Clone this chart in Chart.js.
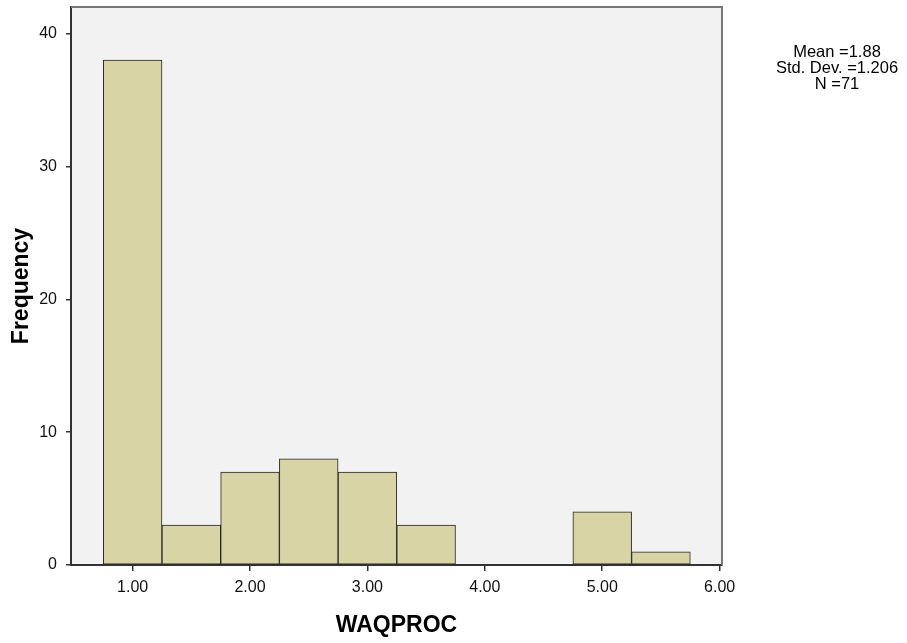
<!DOCTYPE html>
<html>
<head>
<meta charset="utf-8">
<title>WAQPROC histogram</title>
<script src="https://cdn.jsdelivr.net/npm/chart.js@4.4.0/dist/chart.umd.min.js"></script>
<style>
    html, body { margin: 0; padding: 0; background: #ffffff; }
    #chart-wrap { width: 907px; height: 643px; }
</style>
</head>
<body>
<div id="chart-wrap"><canvas id="histogram" width="907" height="643"></canvas></div>
<script>
// bin midpoints (bin width 0.5) and counts per bin
const binCenters = [1.0, 1.5, 2.0, 2.5, 3.0, 3.5, 4.0, 4.5, 5.0, 5.5];
const frequencies = [38, 3, 7, 8, 7, 3, 0, 0, 4, 1];
const xTickValues = [1, 2, 3, 4, 5, 6];
const yTickValues = [0, 10, 20, 30, 40];

const FONT = "'Liberation Sans', Arial, sans-serif";

// summary stats shown at the right, worked out from the binned values
function summary() {
    let n = 0, sum = 0, sumSq = 0;
    for (let i = 0; i < binCenters.length; i++) {
        n += frequencies[i];
        sum += frequencies[i] * binCenters[i];
        sumSq += frequencies[i] * binCenters[i] * binCenters[i];
    }
    let mean = sum / n;
    let sd = Math.sqrt((sumSq - n * mean * mean) / (n - 1));
    return ["Mean =" + mean.toFixed(2), "Std. Dev. =" + sd.toFixed(3), "N =" + n];
}

// grey plot background plus the thin frame on top and right
const plotFrame = {
    id: 'plotFrame',
    beforeDraw(chart) {
        const { ctx, chartArea: a } = chart;
        ctx.save();
        ctx.fillStyle = '#f2f2f2';
        ctx.fillRect(a.left, a.top, a.right - a.left, a.bottom - a.top);
        ctx.restore();
    },
    afterDraw(chart) {
        const { ctx, chartArea: a } = chart;
        ctx.save();
        ctx.strokeStyle = '#777777';
        ctx.lineWidth = 2;
        ctx.beginPath();
        ctx.moveTo(a.left, a.top);
        ctx.lineTo(a.right, a.top);
        ctx.lineTo(a.right, a.bottom);
        ctx.stroke();

        // stats block
        ctx.fillStyle = '#000000';
        ctx.font = '16.5px ' + FONT;
        ctx.textAlign = 'center';
        ctx.textBaseline = 'middle';
        summary().forEach(function (line, i) {
            ctx.fillText(line, 837, 52 + i * 16);
        });
        ctx.restore();
    }
};

new Chart(document.getElementById('histogram'), {
    type: 'bar',
    data: {
        datasets: [{
            label: 'WAQPROC',
            data: binCenters.map((x, i) => ({ x: x, y: frequencies[i] })),
            backgroundColor: '#d9d4a5',
            borderColor: '#262626',
            borderWidth: 1,
            borderSkipped: false,
            barPercentage: 1.0,
            categoryPercentage: 1.0
        }]
    },
    options: {
        responsive: false,
        animation: false,
        layout: { padding: { top: 7, right: 185, left: 0, bottom: 0 } },
        plugins: {
            legend: { display: false },
            tooltip: { enabled: false }
        },
        scales: {
            x: {
                type: 'linear',
                offset: false,
                min: 0.475,
                max: 6.02,
                afterBuildTicks: function (scale) {
                    scale.ticks = xTickValues.map(v => ({ value: v }));
                },
                afterFit: function (scale) {
                    scale.height = 78;
                    scale.paddingLeft = 0;
                    scale.paddingRight = 0;
                },
                border: { display: true, color: '#333333', width: 2 },
                grid: { offset: false, drawOnChartArea: false, tickLength: 6, color: '#333333', lineWidth: 1.5 },
                ticks: {
                    padding: 7,
                    color: '#111111',
                    font: { family: FONT, size: 16 },
                    maxRotation: 0,
                    callback: function (value) { return value.toFixed(2); }
                },
                title: {
                    display: true,
                    text: 'WAQPROC',
                    color: '#000000',
                    font: { family: FONT, size: 23, weight: 'bold', lineHeight: 1.2 },
                    padding: { top: 0, bottom: 4 }
                }
            },
            y: {
                min: 0,
                max: 42,
                afterBuildTicks: function (scale) {
                    scale.ticks = yTickValues.map(v => ({ value: v }));
                },
                afterFit: function (scale) {
                    scale.width = 71;
                    scale.paddingTop = 0;
                    scale.paddingBottom = 0;
                },
                border: { display: true, color: '#333333', width: 2 },
                grid: { drawOnChartArea: false, tickLength: 5, color: '#333333', lineWidth: 1.5 },
                ticks: {
                    padding: 9,
                    color: '#111111',
                    font: { family: FONT, size: 16 }
                },
                title: {
                    display: true,
                    text: 'Frequency',
                    color: '#000000',
                    font: { family: FONT, size: 23, weight: 'bold', lineHeight: 1.2 },
                    padding: { top: 8, bottom: 0 }
                }
            }
        }
    },
    plugins: [plotFrame]
});
</script>
</body>
</html>
